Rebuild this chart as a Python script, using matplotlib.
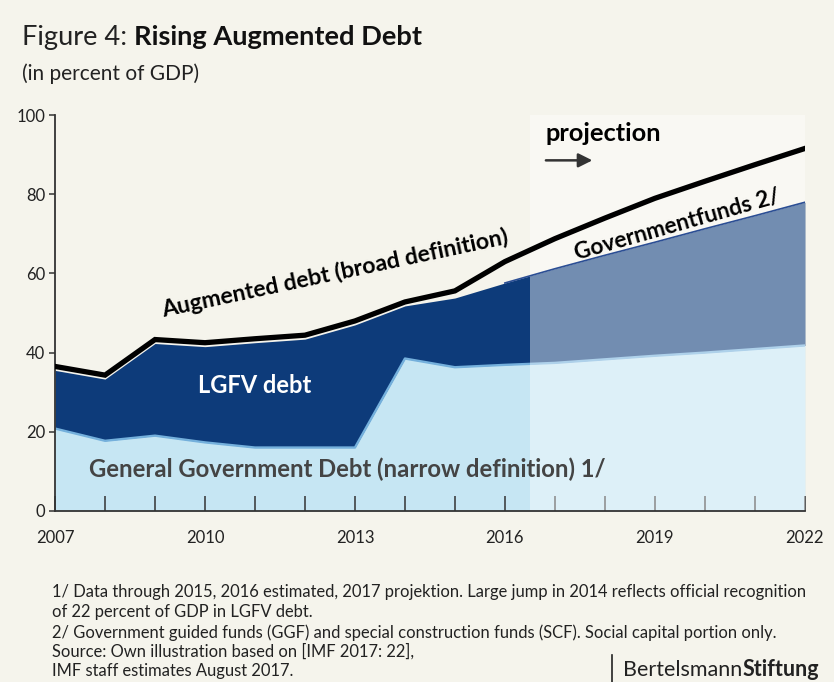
import numpy as np
import matplotlib
matplotlib.use('Agg')
import matplotlib.pyplot as plt

plt.rcParams['font.family'] = ['Lato', 'DejaVu Sans']

# debt in percent of GDP
years = [2007, 2008, 2009, 2010, 2011, 2012, 2013, 2014,
         2015, 2016, 2017, 2018, 2019, 2020, 2021, 2022]
general_gov = [20.8, 17.7, 19.0, 17.3, 16.0, 16.0, 16.0, 38.5,
               36.3, 36.9, 37.4, 38.3, 39.2, 40.0, 40.9, 41.8]
gov_plus_lgfv = [35.5, 33.3, 42.3, 41.5, 42.5, 43.4, 47.0, 51.8,
                 53.8, 57.6, 61.2, 64.6, 67.9, 71.3, 74.6, 78.0]
augmented = [36.5, 34.3, 43.3, 42.5, 43.5, 44.4, 48.0, 52.8,
             55.6, 63.0, 68.8, 74.0, 79.0, 83.3, 87.5, 91.6]
projection_start = 2016.5

labeled_years = [2007, 2010, 2013, 2016, 2019, 2022]
y_ticks = [0, 20, 40, 60, 80, 100]

footnotes = [
    "1/ Data through 2015, 2016 estimated, 2017 projektion. Large jump in 2014 reflects official recognition",
    "of 22 percent of GDP in LGFV debt.",
    "2/ Government guided funds (GGF) and special construction funds (SCF). Social capital portion only.",
    "Source: Own illustration based on [IMF 2017: 22],",
    "IMF staff estimates August 2017.",
]

bg = '#f5f4ec'
light_blue = '#c6e6f3'
navy = '#0d3b7a'
axis_col = '#333333'

fig = plt.figure(figsize=(8.34, 6.82), dpi=100, facecolor=bg)
ax = fig.add_axes([0.066, 0.251, 0.899, 0.580])
ax.set_facecolor(bg)

ax.fill_between(years, 0, general_gov, color=light_blue, lw=0, zorder=1)
ax.fill_between(years, general_gov, gov_plus_lgfv, color=navy, lw=0, zorder=1.1)
ax.plot(years, general_gov, color='#74b0dc', lw=1.7, zorder=1.2)

# projection period is washed out
ax.axvspan(projection_start, 2022, color='white', alpha=0.42, lw=0, zorder=2)
ax.plot([y for y in years if y >= 2016], [v for y, v in zip(years, gov_plus_lgfv) if y >= 2016],
        color='#2b4e94', lw=1.2, zorder=2.1)

ax.plot(years, augmented, color='black', lw=3.8, zorder=3, solid_joinstyle='miter')

ax.set_xlim(2007, 2022)
ax.set_ylim(0, 100)
ax.set_xticks(years)
ax.set_xticklabels([str(y) if y in labeled_years else '' for y in years])
ax.set_yticks(y_ticks)
ax.tick_params(axis='x', direction='in', length=11, width=1.1, color=axis_col,
               labelsize=12, labelcolor='#222222', pad=14)
ax.tick_params(axis='y', direction='out', length=4, width=1.1, color=axis_col,
               labelsize=12, labelcolor='#222222', pad=3)
for side in ['top', 'right']:
    ax.spines[side].set_visible(False)
for side in ['left', 'bottom']:
    ax.spines[side].set_color(axis_col)
    ax.spines[side].set_linewidth(1.3)

# series labels
ax.text(2012.6, 60.0, "Augmented debt (broad definition)", rotation=12,
        ha='center', va='center', fontsize=16.6, fontweight='bold', color='black', zorder=5)
ax.text(2011.0, 31.6, "LGFV debt", ha='center', va='center', fontsize=17,
        fontweight='bold', color='white', zorder=5)
ax.text(2012.85, 10.6, "General Government Debt (narrow definition) 1/", ha='center',
        va='center', fontsize=17.2, fontweight='bold', color='#444444', zorder=5)
ax.text(2019.45, 72.4, "Governmentfunds 2/", rotation=15.8, ha='center', va='center',
        fontsize=16.4, fontweight='bold', color='black', zorder=5)
ax.text(2016.82, 95.4, "projection", ha='left', va='center', fontsize=18.3,
        fontweight='bold', color='black', zorder=5)
ax.annotate("", xy=(2017.75, 88.6), xytext=(2016.82, 88.6),
            arrowprops=dict(arrowstyle='-|>', color='#333333', lw=1.8,
                            mutation_scale=21, shrinkA=0, shrinkB=0), zorder=5)

# title made of a regular and a bold part
renderer = fig.canvas.get_renderer()
t1 = fig.text(0.026, 0.934, "Figure 4: ", fontsize=19.6, color='#222222', va='baseline')
w1 = t1.get_window_extent(renderer).width / fig.bbox.width
fig.text(0.026 + w1, 0.934, "Rising Augmented Debt", fontsize=19.6, fontweight='bold',
         color='#111111', va='baseline')
fig.text(0.026, 0.883, "(in percent of GDP)", fontsize=15, color='#222222', va='baseline')

# footnotes
y0 = 1 - 597 / 682
for i, line in enumerate(footnotes):
    step = [0, 19.5, 41, 60, 79][i]
    fig.text(0.062, y0 - step / 682, line, fontsize=11.9, color='#222222', va='baseline',
             family=['Liberation Sans Narrow', 'Lato'])

fig.add_artist(plt.Line2D([612 / 834, 612 / 834], [1 - 655 / 682, 1 - 682 / 682],
                          color='#222222', lw=1.2))
t3 = fig.text(623 / 834, 1 - 676 / 682, "Bertelsmann", fontsize=15.5, color='#222222',
              va='baseline')
w3 = t3.get_window_extent(renderer).width / fig.bbox.width
fig.text(623 / 834 + w3, 1 - 676 / 682, "Stiftung", fontsize=15.5, fontweight='bold',
         color='#222222', va='baseline')

fig.savefig('out.png', dpi=100, facecolor=bg)
